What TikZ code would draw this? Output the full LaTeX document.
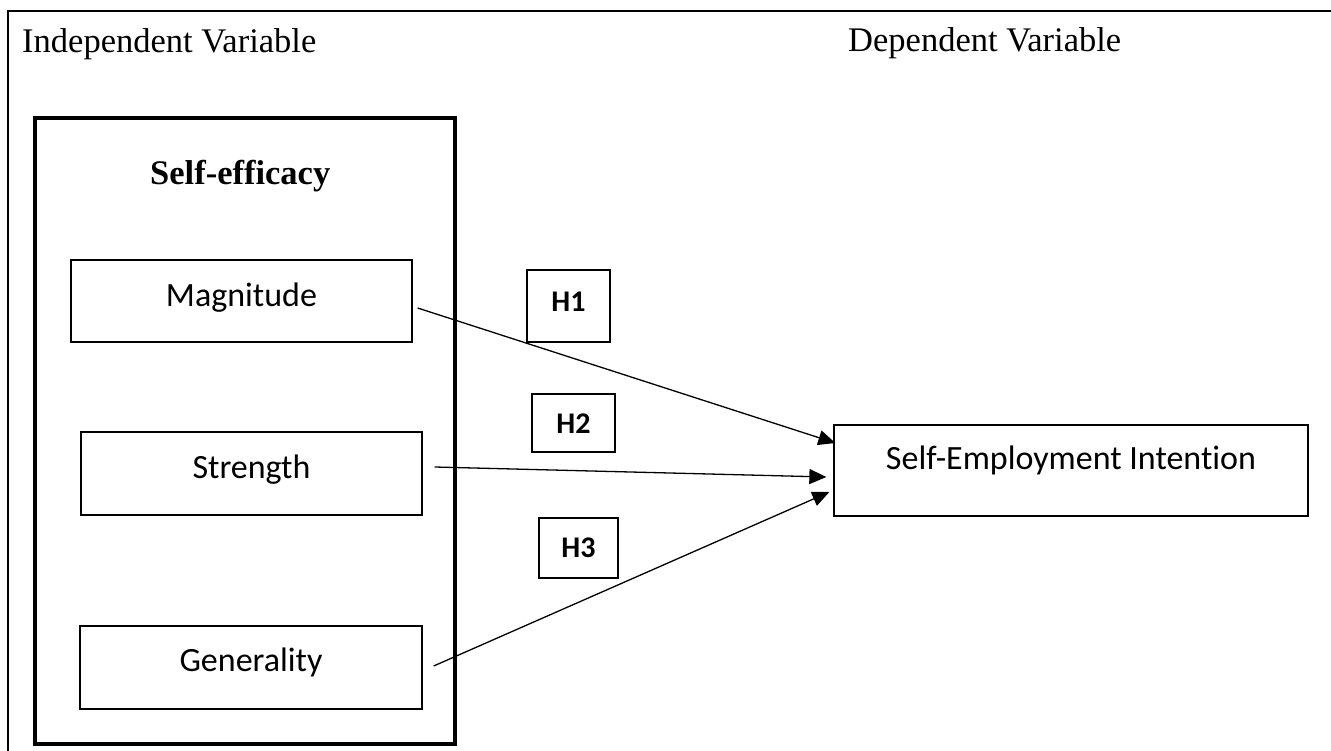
\documentclass[tikz,border=0pt]{standalone}
\usepackage{fontspec}
\setmainfont{Liberation Serif}
\newfontfamily\calfont[Ligatures=NoCommon]{Carlito}
\usetikzlibrary{arrows.meta}
\tikzset{
  thinbox/.style={draw=black, line width=1.3pt, rectangle, inner sep=0pt},
  thickbox/.style={draw=black, line width=3.5pt, rectangle, inner sep=0pt},
  boxtext/.style={anchor=base, inner sep=0pt, font=\calfont\fontsize{34}{40}\selectfont},
  htext/.style={inner sep=0pt, font=\calfont\bfseries\fontsize{30}{36}\selectfont},
  titletext/.style={anchor=base west, inner sep=0pt, font=\fontsize{34.5}{40}\selectfont},
  conn/.style={line width=1.3pt, -{Triangle[length=17pt,width=15pt]}},
  frame/.style={line width=1.3pt}
}
\begin{document}
\begin{tikzpicture}[x=1pt,y=-1pt]
\useasboundingbox (0,0) rectangle (1331,751);
% partial frame
\coordinate (ftl) at (8,11);
\coordinate (ftr) at (1331,11);
\coordinate (fbl) at (8,751);
\draw[frame] (fbl) -- (ftl) -- (ftr);
% titles
\node[titletext] (indep) at (22,53) {Independent Variable};
\node[titletext] (dep) at (848,52) {Dependent Variable};
% outer self-efficacy box
\node[thickbox, minimum width=420pt, minimum height=626pt] (outer) at (245,431) {};
\node[titletext, font=\bfseries\fontsize{34.5}{40}\selectfont] (se) at (150,185) {Self-efficacy};
% inner boxes
\node[thinbox, minimum width=341pt, minimum height=82pt] (mag) at (241.5,301) {};
\node[boxtext] (magt) at (241.5,307) {Magnitude};
\node[thinbox, minimum width=341pt, minimum height=83pt] (str) at (251.5,473.5) {};
\node[boxtext] (strt) at (251.5,478) {Strength};
\node[thinbox, minimum width=342pt, minimum height=83pt] (gen) at (251,667.5) {};
\node[boxtext] (gent) at (251,671) {Generality};
% dependent box
\node[thinbox, minimum width=474pt, minimum height=91pt] (sei) at (1071,470.5) {};
\node[boxtext] (seit) at (1071,469) {Self-Employment Intention};
% hypothesis boxes
\node[thinbox, minimum width=83pt, minimum height=72pt] (h1) at (568.5,306) {};
\node[htext] (h1t) at (568.5,302) {H1};
\node[thinbox, minimum width=83pt, minimum height=58pt] (h2) at (573.5,423) {};
\node[htext] (h2t) at (573.5,424) {H2};
\node[thinbox, minimum width=79pt, minimum height=60pt] (h3) at (578.5,548) {};
\node[htext] (h3t) at (578.5,548) {H3};
% connectors
\draw[conn] ([xshift=5pt,yshift=-7pt]mag.east) -- ([xshift=2pt,yshift=27.5pt]sei.west);
\draw[conn] ([xshift=12pt,yshift=6.5pt]str.east) -- ([xshift=-7pt,yshift=-6.5pt]sei.west);
\draw[conn] ([xshift=11pt,yshift=1.5pt]gen.east) -- ([xshift=-4pt,yshift=-21.5pt]sei.west);
\end{tikzpicture}
\end{document}
